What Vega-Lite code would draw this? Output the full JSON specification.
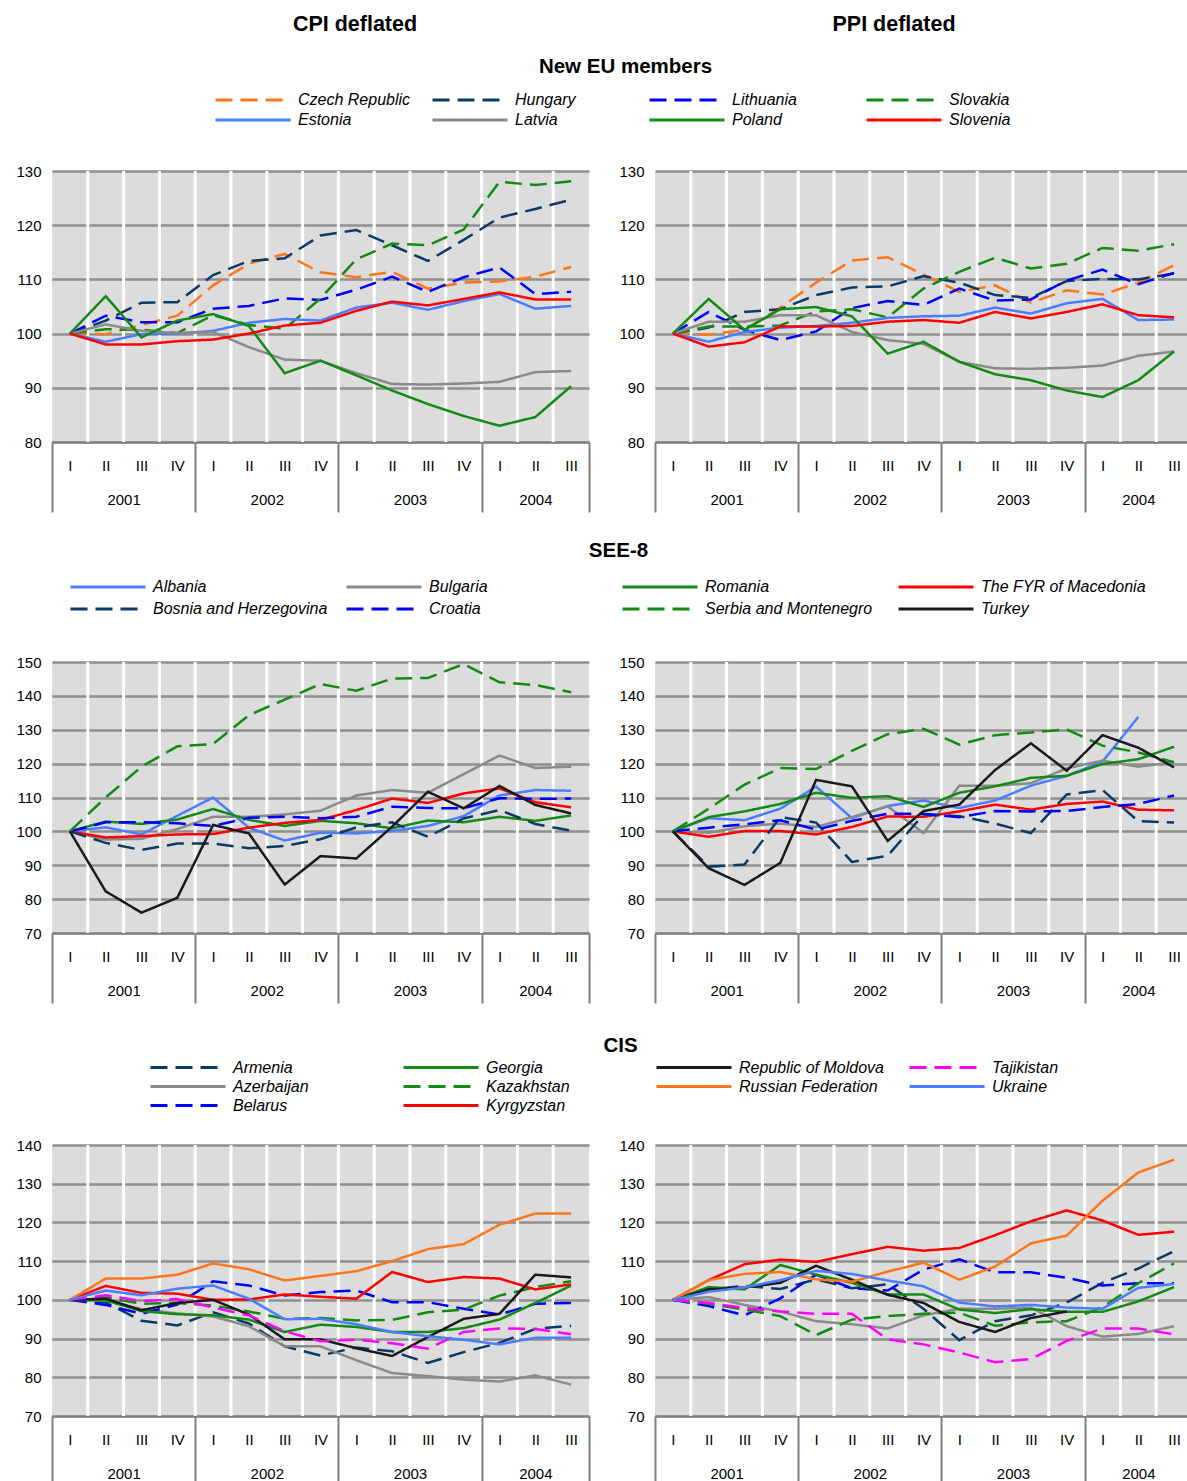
{
"$schema": "https://vega.github.io/schema/vega-lite/v6.json",
"padding": {"left": 15, "top": 10, "right": 0, "bottom": 0},
"background": "#ffffff",
"config": {
  "font": "Liberation Sans",
  "view": {"stroke": null},
  "title": {"font": "Liberation Sans", "color": "#000000"},
  "axis": {"labelFont": "Liberation Sans", "labelColor": "#000000"},
  "legend": {"labelFont": "Liberation Sans", "labelColor": "#000000", "symbolType": "stroke", "symbolSize": 5625, "symbolStrokeWidth": 3, "labelFontSize": 16, "labelFontStyle": "italic", "labelOffset": 6, "labelLimit": 400, "direction": "horizontal", "columns": 4, "gridAlign": "all"}
},
"datasets": {
"stripes": [{"t":2001.25},{"t":2001.5},{"t":2001.75},{"t":2002},{"t":2002.25},{"t":2002.5},{"t":2002.75},{"t":2003},{"t":2003.25},{"t":2003.5},{"t":2003.75},{"t":2004},{"t":2004.25},{"t":2004.5}],
"eu": [
{"c":"Czech Republic","t":2001.125,"cpi":100,"ppi":100},{"c":"Czech Republic","t":2001.375,"cpi":99.9,"ppi":99.8},{"c":"Czech Republic","t":2001.625,"cpi":101.6,"ppi":100.7},{"c":"Czech Republic","t":2001.875,"cpi":103.3,"ppi":104.8},{"c":"Czech Republic","t":2002.125,"cpi":108.9,"ppi":109.4},{"c":"Czech Republic","t":2002.375,"cpi":112.9,"ppi":113.5},{"c":"Czech Republic","t":2002.625,"cpi":114.7,"ppi":114.1},{"c":"Czech Republic","t":2002.875,"cpi":111.3,"ppi":110.9},{"c":"Czech Republic","t":2003.125,"cpi":110.4,"ppi":107.7},{"c":"Czech Republic","t":2003.375,"cpi":111.4,"ppi":108.9},{"c":"Czech Republic","t":2003.625,"cpi":108.3,"ppi":105.7},{"c":"Czech Republic","t":2003.875,"cpi":109.4,"ppi":108.0},{"c":"Czech Republic","t":2004.125,"cpi":109.6,"ppi":107.2},{"c":"Czech Republic","t":2004.375,"cpi":110.5,"ppi":109.4},{"c":"Czech Republic","t":2004.625,"cpi":112.3,"ppi":112.6},
{"c":"Hungary","t":2001.125,"cpi":100,"ppi":100},{"c":"Hungary","t":2001.375,"cpi":102.4,"ppi":101.1},{"c":"Hungary","t":2001.625,"cpi":105.7,"ppi":104.0},{"c":"Hungary","t":2001.875,"cpi":105.8,"ppi":104.5},{"c":"Hungary","t":2002.125,"cpi":110.8,"ppi":107.1},{"c":"Hungary","t":2002.375,"cpi":113.4,"ppi":108.5},{"c":"Hungary","t":2002.625,"cpi":113.9,"ppi":108.7},{"c":"Hungary","t":2002.875,"cpi":118.1,"ppi":110.6},{"c":"Hungary","t":2003.125,"cpi":119.1,"ppi":109.4},{"c":"Hungary","t":2003.375,"cpi":116.3,"ppi":107.1},{"c":"Hungary","t":2003.625,"cpi":113.4,"ppi":106.6},{"c":"Hungary","t":2003.875,"cpi":117.3,"ppi":109.7},{"c":"Hungary","t":2004.125,"cpi":121.4,"ppi":110.1},{"c":"Hungary","t":2004.375,"cpi":123.0,"ppi":110.0},{"c":"Hungary","t":2004.625,"cpi":124.7,"ppi":111.1},
{"c":"Lithuania","t":2001.125,"cpi":100,"ppi":100},{"c":"Lithuania","t":2001.375,"cpi":103.3,"ppi":104.0},{"c":"Lithuania","t":2001.625,"cpi":102.1,"ppi":100.7},{"c":"Lithuania","t":2001.875,"cpi":102.1,"ppi":98.8},{"c":"Lithuania","t":2002.125,"cpi":104.6,"ppi":100.4},{"c":"Lithuania","t":2002.375,"cpi":105.1,"ppi":104.7},{"c":"Lithuania","t":2002.625,"cpi":106.5,"ppi":106.0},{"c":"Lithuania","t":2002.875,"cpi":106.2,"ppi":105.3},{"c":"Lithuania","t":2003.125,"cpi":108.1,"ppi":108.3},{"c":"Lithuania","t":2003.375,"cpi":110.5,"ppi":106.1},{"c":"Lithuania","t":2003.625,"cpi":107.7,"ppi":106.3},{"c":"Lithuania","t":2003.875,"cpi":110.4,"ppi":109.8},{"c":"Lithuania","t":2004.125,"cpi":112.2,"ppi":111.8},{"c":"Lithuania","t":2004.375,"cpi":107.3,"ppi":109.1},{"c":"Lithuania","t":2004.625,"cpi":107.7,"ppi":111.2},
{"c":"Slovakia","t":2001.125,"cpi":100,"ppi":100},{"c":"Slovakia","t":2001.375,"cpi":100.8,"ppi":101.3},{"c":"Slovakia","t":2001.625,"cpi":100.7,"ppi":101.3},{"c":"Slovakia","t":2001.875,"cpi":100.1,"ppi":101.5},{"c":"Slovakia","t":2002.125,"cpi":103.4,"ppi":104.1},{"c":"Slovakia","t":2002.375,"cpi":101.6,"ppi":104.5},{"c":"Slovakia","t":2002.625,"cpi":100.9,"ppi":103.0},{"c":"Slovakia","t":2002.875,"cpi":106.5,"ppi":108.3},{"c":"Slovakia","t":2003.125,"cpi":113.7,"ppi":111.4},{"c":"Slovakia","t":2003.375,"cpi":116.6,"ppi":114.0},{"c":"Slovakia","t":2003.625,"cpi":116.3,"ppi":112.0},{"c":"Slovakia","t":2003.875,"cpi":119.2,"ppi":112.9},{"c":"Slovakia","t":2004.125,"cpi":128.0,"ppi":115.8},{"c":"Slovakia","t":2004.375,"cpi":127.4,"ppi":115.3},{"c":"Slovakia","t":2004.625,"cpi":128.1,"ppi":116.5},
{"c":"Estonia","t":2001.125,"cpi":100,"ppi":100},{"c":"Estonia","t":2001.375,"cpi":98.5,"ppi":98.5},{"c":"Estonia","t":2001.625,"cpi":99.9,"ppi":100.3},{"c":"Estonia","t":2001.875,"cpi":100.0,"ppi":101.1},{"c":"Estonia","t":2002.125,"cpi":100.5,"ppi":101.4},{"c":"Estonia","t":2002.375,"cpi":102.0,"ppi":102.0},{"c":"Estonia","t":2002.625,"cpi":102.7,"ppi":102.9},{"c":"Estonia","t":2002.875,"cpi":102.4,"ppi":103.2},{"c":"Estonia","t":2003.125,"cpi":104.8,"ppi":103.3},{"c":"Estonia","t":2003.375,"cpi":105.7,"ppi":104.8},{"c":"Estonia","t":2003.625,"cpi":104.4,"ppi":103.7},{"c":"Estonia","t":2003.875,"cpi":106.0,"ppi":105.6},{"c":"Estonia","t":2004.125,"cpi":107.3,"ppi":106.4},{"c":"Estonia","t":2004.375,"cpi":104.6,"ppi":102.5},{"c":"Estonia","t":2004.625,"cpi":105.1,"ppi":102.6},
{"c":"Latvia","t":2001.125,"cpi":100,"ppi":100},{"c":"Latvia","t":2001.375,"cpi":101.7,"ppi":102.2},{"c":"Latvia","t":2001.625,"cpi":100.5,"ppi":102.2},{"c":"Latvia","t":2001.875,"cpi":100.1,"ppi":103.4},{"c":"Latvia","t":2002.125,"cpi":100.3,"ppi":103.4},{"c":"Latvia","t":2002.375,"cpi":97.5,"ppi":100.3},{"c":"Latvia","t":2002.625,"cpi":95.2,"ppi":98.8},{"c":"Latvia","t":2002.875,"cpi":95.0,"ppi":98.1},{"c":"Latvia","t":2003.125,"cpi":92.7,"ppi":94.8},{"c":"Latvia","t":2003.375,"cpi":90.7,"ppi":93.6},{"c":"Latvia","t":2003.625,"cpi":90.6,"ppi":93.5},{"c":"Latvia","t":2003.875,"cpi":90.8,"ppi":93.7},{"c":"Latvia","t":2004.125,"cpi":91.1,"ppi":94.1},{"c":"Latvia","t":2004.375,"cpi":92.9,"ppi":95.9},{"c":"Latvia","t":2004.625,"cpi":93.1,"ppi":96.7},
{"c":"Poland","t":2001.125,"cpi":100,"ppi":100},{"c":"Poland","t":2001.375,"cpi":106.9,"ppi":106.4},{"c":"Poland","t":2001.625,"cpi":99.3,"ppi":100.7},{"c":"Poland","t":2001.875,"cpi":102.4,"ppi":104.5},{"c":"Poland","t":2002.125,"cpi":103.6,"ppi":104.9},{"c":"Poland","t":2002.375,"cpi":101.4,"ppi":103.2},{"c":"Poland","t":2002.625,"cpi":92.7,"ppi":96.3},{"c":"Poland","t":2002.875,"cpi":95.0,"ppi":98.5},{"c":"Poland","t":2003.125,"cpi":92.3,"ppi":94.8},{"c":"Poland","t":2003.375,"cpi":89.5,"ppi":92.5},{"c":"Poland","t":2003.625,"cpi":87.0,"ppi":91.4},{"c":"Poland","t":2003.875,"cpi":84.8,"ppi":89.5},{"c":"Poland","t":2004.125,"cpi":83.0,"ppi":88.3},{"c":"Poland","t":2004.375,"cpi":84.6,"ppi":91.4},{"c":"Poland","t":2004.625,"cpi":90.3,"ppi":96.7},
{"c":"Slovenia","t":2001.125,"cpi":100,"ppi":100},{"c":"Slovenia","t":2001.375,"cpi":98.0,"ppi":97.6},{"c":"Slovenia","t":2001.625,"cpi":98.0,"ppi":98.4},{"c":"Slovenia","t":2001.875,"cpi":98.6,"ppi":101.3},{"c":"Slovenia","t":2002.125,"cpi":98.9,"ppi":101.3},{"c":"Slovenia","t":2002.375,"cpi":100.0,"ppi":101.4},{"c":"Slovenia","t":2002.625,"cpi":101.5,"ppi":102.2},{"c":"Slovenia","t":2002.875,"cpi":102.0,"ppi":102.5},{"c":"Slovenia","t":2003.125,"cpi":104.2,"ppi":102.0},{"c":"Slovenia","t":2003.375,"cpi":105.9,"ppi":104.0},{"c":"Slovenia","t":2003.625,"cpi":105.2,"ppi":102.8},{"c":"Slovenia","t":2003.875,"cpi":106.4,"ppi":104.0},{"c":"Slovenia","t":2004.125,"cpi":107.6,"ppi":105.4},{"c":"Slovenia","t":2004.375,"cpi":106.3,"ppi":103.4},{"c":"Slovenia","t":2004.625,"cpi":106.3,"ppi":103.0}
],
"see": [
{"c":"Albania","t":2001.125,"cpi":100,"ppi":100},{"c":"Albania","t":2001.375,"cpi":101.2,"ppi":103.9},{"c":"Albania","t":2001.625,"cpi":99.1,"ppi":103.3},{"c":"Albania","t":2001.875,"cpi":104.6,"ppi":106.7},{"c":"Albania","t":2002.125,"cpi":110.0,"ppi":113.2},{"c":"Albania","t":2002.375,"cpi":101.1,"ppi":103.9},{"c":"Albania","t":2002.625,"cpi":97.3,"ppi":107.5},{"c":"Albania","t":2002.875,"cpi":99.6,"ppi":109.1},{"c":"Albania","t":2003.125,"cpi":99.4,"ppi":106.9},{"c":"Albania","t":2003.375,"cpi":100.1,"ppi":109.1},{"c":"Albania","t":2003.625,"cpi":101.6,"ppi":113.5},{"c":"Albania","t":2003.875,"cpi":104.5,"ppi":116.4},{"c":"Albania","t":2004.125,"cpi":110.6,"ppi":120.6},{"c":"Albania","t":2004.375,"cpi":112.2,"ppi":133.8},{"c":"Albania","t":2004.625,"cpi":112.0,"ppi":null},
{"c":"Bulgaria","t":2001.125,"cpi":100,"ppi":100},{"c":"Bulgaria","t":2001.375,"cpi":97.6,"ppi":99.6},{"c":"Bulgaria","t":2001.625,"cpi":97.8,"ppi":101.5},{"c":"Bulgaria","t":2001.875,"cpi":100.7,"ppi":102.3},{"c":"Bulgaria","t":2002.125,"cpi":104.3,"ppi":101.3},{"c":"Bulgaria","t":2002.375,"cpi":104.3,"ppi":104.2},{"c":"Bulgaria","t":2002.625,"cpi":105.0,"ppi":107.4},{"c":"Bulgaria","t":2002.875,"cpi":106.1,"ppi":99.5},{"c":"Bulgaria","t":2003.125,"cpi":110.6,"ppi":113.5},{"c":"Bulgaria","t":2003.375,"cpi":112.2,"ppi":113.5},{"c":"Bulgaria","t":2003.625,"cpi":111.4,"ppi":114.2},{"c":"Bulgaria","t":2003.875,"cpi":116.9,"ppi":118.6},{"c":"Bulgaria","t":2004.125,"cpi":122.4,"ppi":120.9},{"c":"Bulgaria","t":2004.375,"cpi":118.7,"ppi":119.1},{"c":"Bulgaria","t":2004.625,"cpi":119.1,"ppi":120.4},
{"c":"Romania","t":2001.125,"cpi":100,"ppi":100},{"c":"Romania","t":2001.375,"cpi":102.9,"ppi":104.2},{"c":"Romania","t":2001.625,"cpi":102.2,"ppi":105.9},{"c":"Romania","t":2001.875,"cpi":103.5,"ppi":108.1},{"c":"Romania","t":2002.125,"cpi":106.6,"ppi":111.4},{"c":"Romania","t":2002.375,"cpi":103.4,"ppi":109.9},{"c":"Romania","t":2002.625,"cpi":101.6,"ppi":110.4},{"c":"Romania","t":2002.875,"cpi":103.1,"ppi":107.2},{"c":"Romania","t":2003.125,"cpi":102.4,"ppi":111.4},{"c":"Romania","t":2003.375,"cpi":100.9,"ppi":113.3},{"c":"Romania","t":2003.625,"cpi":103.2,"ppi":115.8},{"c":"Romania","t":2003.875,"cpi":102.7,"ppi":116.4},{"c":"Romania","t":2004.125,"cpi":104.3,"ppi":119.9},{"c":"Romania","t":2004.375,"cpi":103.1,"ppi":121.3},{"c":"Romania","t":2004.625,"cpi":104.7,"ppi":125.0},
{"c":"The FYR of Macedonia","t":2001.125,"cpi":100,"ppi":100},{"c":"The FYR of Macedonia","t":2001.375,"cpi":98.2,"ppi":98.4},{"c":"The FYR of Macedonia","t":2001.625,"cpi":98.6,"ppi":100.1},{"c":"The FYR of Macedonia","t":2001.875,"cpi":99.1,"ppi":100.1},{"c":"The FYR of Macedonia","t":2002.125,"cpi":99.2,"ppi":99.1},{"c":"The FYR of Macedonia","t":2002.375,"cpi":101.1,"ppi":101.3},{"c":"The FYR of Macedonia","t":2002.625,"cpi":102.5,"ppi":104.4},{"c":"The FYR of Macedonia","t":2002.875,"cpi":103.4,"ppi":104.3},{"c":"The FYR of Macedonia","t":2003.125,"cpi":106.3,"ppi":105.9},{"c":"The FYR of Macedonia","t":2003.375,"cpi":109.7,"ppi":107.9},{"c":"The FYR of Macedonia","t":2003.625,"cpi":108.4,"ppi":106.4},{"c":"The FYR of Macedonia","t":2003.875,"cpi":111.2,"ppi":108.1},{"c":"The FYR of Macedonia","t":2004.125,"cpi":112.7,"ppi":108.8},{"c":"The FYR of Macedonia","t":2004.375,"cpi":108.6,"ppi":106.4},{"c":"The FYR of Macedonia","t":2004.625,"cpi":107.1,"ppi":106.2},
{"c":"Bosnia and Herzegovina","t":2001.125,"cpi":100,"ppi":100},{"c":"Bosnia and Herzegovina","t":2001.375,"cpi":96.6,"ppi":89.6},{"c":"Bosnia and Herzegovina","t":2001.625,"cpi":94.5,"ppi":90.2},{"c":"Bosnia and Herzegovina","t":2001.875,"cpi":96.4,"ppi":104.2},{"c":"Bosnia and Herzegovina","t":2002.125,"cpi":96.4,"ppi":102.6},{"c":"Bosnia and Herzegovina","t":2002.375,"cpi":95.0,"ppi":91.0},{"c":"Bosnia and Herzegovina","t":2002.625,"cpi":95.7,"ppi":92.8},{"c":"Bosnia and Herzegovina","t":2002.875,"cpi":97.7,"ppi":105.0},{"c":"Bosnia and Herzegovina","t":2003.125,"cpi":101.2,"ppi":104.5},{"c":"Bosnia and Herzegovina","t":2003.375,"cpi":102.7,"ppi":102.3},{"c":"Bosnia and Herzegovina","t":2003.625,"cpi":98.4,"ppi":99.5},{"c":"Bosnia and Herzegovina","t":2003.875,"cpi":103.8,"ppi":110.9},{"c":"Bosnia and Herzegovina","t":2004.125,"cpi":106.3,"ppi":112.2},{"c":"Bosnia and Herzegovina","t":2004.375,"cpi":102.2,"ppi":103.0},{"c":"Bosnia and Herzegovina","t":2004.625,"cpi":100.2,"ppi":102.6},
{"c":"Croatia","t":2001.125,"cpi":100,"ppi":100},{"c":"Croatia","t":2001.375,"cpi":102.7,"ppi":101.1},{"c":"Croatia","t":2001.625,"cpi":102.7,"ppi":102.1},{"c":"Croatia","t":2001.875,"cpi":102.4,"ppi":103.3},{"c":"Croatia","t":2002.125,"cpi":101.6,"ppi":100.5},{"c":"Croatia","t":2002.375,"cpi":104.0,"ppi":103.1},{"c":"Croatia","t":2002.625,"cpi":104.3,"ppi":105.2},{"c":"Croatia","t":2002.875,"cpi":103.9,"ppi":105.2},{"c":"Croatia","t":2003.125,"cpi":104.3,"ppi":104.2},{"c":"Croatia","t":2003.375,"cpi":107.3,"ppi":106.0},{"c":"Croatia","t":2003.625,"cpi":106.9,"ppi":105.9},{"c":"Croatia","t":2003.875,"cpi":106.8,"ppi":106.0},{"c":"Croatia","t":2004.125,"cpi":109.8,"ppi":107.2},{"c":"Croatia","t":2004.375,"cpi":109.6,"ppi":108.1},{"c":"Croatia","t":2004.625,"cpi":109.7,"ppi":110.6},
{"c":"Serbia and Montenegro","t":2001.125,"cpi":100,"ppi":100},{"c":"Serbia and Montenegro","t":2001.375,"cpi":110.0,"ppi":106.7},{"c":"Serbia and Montenegro","t":2001.625,"cpi":119.1,"ppi":113.8},{"c":"Serbia and Montenegro","t":2001.875,"cpi":125.1,"ppi":118.7},{"c":"Serbia and Montenegro","t":2002.125,"cpi":125.8,"ppi":118.4},{"c":"Serbia and Montenegro","t":2002.375,"cpi":134.3,"ppi":123.8},{"c":"Serbia and Montenegro","t":2002.625,"cpi":138.9,"ppi":128.7},{"c":"Serbia and Montenegro","t":2002.875,"cpi":143.5,"ppi":130.3},{"c":"Serbia and Montenegro","t":2003.125,"cpi":141.5,"ppi":125.6},{"c":"Serbia and Montenegro","t":2003.375,"cpi":145.1,"ppi":128.4},{"c":"Serbia and Montenegro","t":2003.625,"cpi":145.3,"ppi":129.2},{"c":"Serbia and Montenegro","t":2003.875,"cpi":149.4,"ppi":130.1},{"c":"Serbia and Montenegro","t":2004.125,"cpi":144.0,"ppi":125.3},{"c":"Serbia and Montenegro","t":2004.375,"cpi":143.2,"ppi":123.3},{"c":"Serbia and Montenegro","t":2004.625,"cpi":141.1,"ppi":120.4},
{"c":"Turkey","t":2001.125,"cpi":100,"ppi":100},{"c":"Turkey","t":2001.375,"cpi":82.3,"ppi":89.1},{"c":"Turkey","t":2001.625,"cpi":76.0,"ppi":84.2},{"c":"Turkey","t":2001.875,"cpi":80.4,"ppi":90.7},{"c":"Turkey","t":2002.125,"cpi":101.9,"ppi":115.2},{"c":"Turkey","t":2002.375,"cpi":99.4,"ppi":113.3},{"c":"Turkey","t":2002.625,"cpi":84.3,"ppi":97.2},{"c":"Turkey","t":2002.875,"cpi":92.7,"ppi":106.0},{"c":"Turkey","t":2003.125,"cpi":92.0,"ppi":107.9},{"c":"Turkey","t":2003.375,"cpi":101.4,"ppi":118.1},{"c":"Turkey","t":2003.625,"cpi":111.7,"ppi":126.0},{"c":"Turkey","t":2003.875,"cpi":106.8,"ppi":117.9},{"c":"Turkey","t":2004.125,"cpi":113.4,"ppi":128.4},{"c":"Turkey","t":2004.375,"cpi":107.8,"ppi":124.7},{"c":"Turkey","t":2004.625,"cpi":105.3,"ppi":118.9}
],
"cis": [
{"c":"Armenia","t":2001.125,"cpi":100,"ppi":100},{"c":"Armenia","t":2001.375,"cpi":99.3,"ppi":102.7},{"c":"Armenia","t":2001.625,"cpi":94.6,"ppi":103.6},{"c":"Armenia","t":2001.875,"cpi":93.4,"ppi":102.8},{"c":"Armenia","t":2002.125,"cpi":96.8,"ppi":105.3},{"c":"Armenia","t":2002.375,"cpi":93.9,"ppi":103.0},{"c":"Armenia","t":2002.625,"cpi":88.0,"ppi":104.0},{"c":"Armenia","t":2002.875,"cpi":85.6,"ppi":97.7},{"c":"Armenia","t":2003.125,"cpi":87.7,"ppi":89.6},{"c":"Armenia","t":2003.375,"cpi":86.7,"ppi":94.5},{"c":"Armenia","t":2003.625,"cpi":83.7,"ppi":96.0},{"c":"Armenia","t":2003.875,"cpi":86.5,"ppi":99.3},{"c":"Armenia","t":2004.125,"cpi":88.9,"ppi":104.4},{"c":"Armenia","t":2004.375,"cpi":92.5,"ppi":108.1},{"c":"Armenia","t":2004.625,"cpi":93.3,"ppi":112.6},
{"c":"Azerbaijan","t":2001.125,"cpi":100,"ppi":100},{"c":"Azerbaijan","t":2001.375,"cpi":99.8,"ppi":100.7},{"c":"Azerbaijan","t":2001.625,"cpi":97.6,"ppi":98.7},{"c":"Azerbaijan","t":2001.875,"cpi":96.5,"ppi":97.0},{"c":"Azerbaijan","t":2002.125,"cpi":95.7,"ppi":94.5},{"c":"Azerbaijan","t":2002.375,"cpi":93.2,"ppi":93.7},{"c":"Azerbaijan","t":2002.625,"cpi":88.0,"ppi":92.6},{"c":"Azerbaijan","t":2002.875,"cpi":88.0,"ppi":96.0},{"c":"Azerbaijan","t":2003.125,"cpi":84.4,"ppi":97.7},{"c":"Azerbaijan","t":2003.375,"cpi":81.1,"ppi":97.7},{"c":"Azerbaijan","t":2003.625,"cpi":80.3,"ppi":98.0},{"c":"Azerbaijan","t":2003.875,"cpi":79.4,"ppi":93.2},{"c":"Azerbaijan","t":2004.125,"cpi":78.9,"ppi":90.5},{"c":"Azerbaijan","t":2004.375,"cpi":80.5,"ppi":91.2},{"c":"Azerbaijan","t":2004.625,"cpi":78.1,"ppi":93.2},
{"c":"Belarus","t":2001.125,"cpi":100,"ppi":100},{"c":"Belarus","t":2001.375,"cpi":98.7,"ppi":98.4},{"c":"Belarus","t":2001.625,"cpi":96.4,"ppi":96.0},{"c":"Belarus","t":2001.875,"cpi":98.8,"ppi":100.4},{"c":"Belarus","t":2002.125,"cpi":104.8,"ppi":106.5},{"c":"Belarus","t":2002.375,"cpi":103.7,"ppi":103.0},{"c":"Belarus","t":2002.625,"cpi":101.1,"ppi":102.4},{"c":"Belarus","t":2002.875,"cpi":102.0,"ppi":107.8},{"c":"Belarus","t":2003.125,"cpi":102.4,"ppi":110.5},{"c":"Belarus","t":2003.375,"cpi":99.4,"ppi":107.1},{"c":"Belarus","t":2003.625,"cpi":99.4,"ppi":107.1},{"c":"Belarus","t":2003.875,"cpi":97.7,"ppi":105.7},{"c":"Belarus","t":2004.125,"cpi":96.2,"ppi":103.7},{"c":"Belarus","t":2004.375,"cpi":99.0,"ppi":104.3},{"c":"Belarus","t":2004.625,"cpi":99.2,"ppi":104.3},
{"c":"Georgia","t":2001.125,"cpi":100,"ppi":100},{"c":"Georgia","t":2001.375,"cpi":99.9,"ppi":103.3},{"c":"Georgia","t":2001.625,"cpi":97.1,"ppi":102.7},{"c":"Georgia","t":2001.875,"cpi":96.3,"ppi":109.0},{"c":"Georgia","t":2002.125,"cpi":96.0,"ppi":106.5},{"c":"Georgia","t":2002.375,"cpi":94.9,"ppi":104.4},{"c":"Georgia","t":2002.625,"cpi":91.7,"ppi":101.4},{"c":"Georgia","t":2002.875,"cpi":93.6,"ppi":101.4},{"c":"Georgia","t":2003.125,"cpi":93.0,"ppi":97.5},{"c":"Georgia","t":2003.375,"cpi":91.7,"ppi":96.6},{"c":"Georgia","t":2003.625,"cpi":91.7,"ppi":97.6},{"c":"Georgia","t":2003.875,"cpi":92.7,"ppi":96.9},{"c":"Georgia","t":2004.125,"cpi":94.9,"ppi":96.9},{"c":"Georgia","t":2004.375,"cpi":99.2,"ppi":99.6},{"c":"Georgia","t":2004.625,"cpi":103.7,"ppi":103.3},
{"c":"Kazakhstan","t":2001.125,"cpi":100,"ppi":100},{"c":"Kazakhstan","t":2001.375,"cpi":100.6,"ppi":99.0},{"c":"Kazakhstan","t":2001.625,"cpi":99.0,"ppi":97.5},{"c":"Kazakhstan","t":2001.875,"cpi":99.2,"ppi":95.8},{"c":"Kazakhstan","t":2002.125,"cpi":98.5,"ppi":90.9},{"c":"Kazakhstan","t":2002.375,"cpi":97.0,"ppi":94.9},{"c":"Kazakhstan","t":2002.625,"cpi":95.1,"ppi":95.8},{"c":"Kazakhstan","t":2002.875,"cpi":95.3,"ppi":96.4},{"c":"Kazakhstan","t":2003.125,"cpi":94.7,"ppi":96.7},{"c":"Kazakhstan","t":2003.375,"cpi":94.8,"ppi":93.3},{"c":"Kazakhstan","t":2003.625,"cpi":96.8,"ppi":94.2},{"c":"Kazakhstan","t":2003.875,"cpi":97.5,"ppi":94.5},{"c":"Kazakhstan","t":2004.125,"cpi":101.1,"ppi":98.1},{"c":"Kazakhstan","t":2004.375,"cpi":103.3,"ppi":104.3},{"c":"Kazakhstan","t":2004.625,"cpi":104.8,"ppi":109.4},
{"c":"Kyrgyzstan","t":2001.125,"cpi":100,"ppi":100},{"c":"Kyrgyzstan","t":2001.375,"cpi":103.6,"ppi":105.1},{"c":"Kyrgyzstan","t":2001.625,"cpi":101.8,"ppi":109.2},{"c":"Kyrgyzstan","t":2001.875,"cpi":101.6,"ppi":110.4},{"c":"Kyrgyzstan","t":2002.125,"cpi":100.0,"ppi":109.8},{"c":"Kyrgyzstan","t":2002.375,"cpi":100.1,"ppi":111.8},{"c":"Kyrgyzstan","t":2002.625,"cpi":101.4,"ppi":113.7},{"c":"Kyrgyzstan","t":2002.875,"cpi":100.8,"ppi":112.7},{"c":"Kyrgyzstan","t":2003.125,"cpi":100.3,"ppi":113.4},{"c":"Kyrgyzstan","t":2003.375,"cpi":107.2,"ppi":116.7},{"c":"Kyrgyzstan","t":2003.625,"cpi":104.6,"ppi":120.3},{"c":"Kyrgyzstan","t":2003.875,"cpi":105.9,"ppi":123.1},{"c":"Kyrgyzstan","t":2004.125,"cpi":105.5,"ppi":120.5},{"c":"Kyrgyzstan","t":2004.375,"cpi":102.7,"ppi":116.8},{"c":"Kyrgyzstan","t":2004.625,"cpi":104.0,"ppi":117.6},
{"c":"Republic of Moldova","t":2001.125,"cpi":100,"ppi":100},{"c":"Republic of Moldova","t":2001.375,"cpi":100.3,"ppi":102.7},{"c":"Republic of Moldova","t":2001.625,"cpi":97.3,"ppi":103.2},{"c":"Republic of Moldova","t":2001.875,"cpi":99.2,"ppi":104.4},{"c":"Republic of Moldova","t":2002.125,"cpi":100.0,"ppi":108.8},{"c":"Republic of Moldova","t":2002.375,"cpi":96.2,"ppi":105.2},{"c":"Republic of Moldova","t":2002.625,"cpi":89.8,"ppi":101.3},{"c":"Republic of Moldova","t":2002.875,"cpi":89.8,"ppi":99.2},{"c":"Republic of Moldova","t":2003.125,"cpi":87.5,"ppi":94.3},{"c":"Republic of Moldova","t":2003.375,"cpi":85.5,"ppi":91.7},{"c":"Republic of Moldova","t":2003.625,"cpi":90.4,"ppi":95.3},{"c":"Republic of Moldova","t":2003.875,"cpi":95.1,"ppi":97.0},{"c":"Republic of Moldova","t":2004.125,"cpi":96.4,"ppi":null},{"c":"Republic of Moldova","t":2004.375,"cpi":106.5,"ppi":null},{"c":"Republic of Moldova","t":2004.625,"cpi":105.8,"ppi":null},
{"c":"Russian Federation","t":2001.125,"cpi":100,"ppi":100},{"c":"Russian Federation","t":2001.375,"cpi":105.5,"ppi":105.1},{"c":"Russian Federation","t":2001.625,"cpi":105.5,"ppi":106.7},{"c":"Russian Federation","t":2001.875,"cpi":106.5,"ppi":107.2},{"c":"Russian Federation","t":2002.125,"cpi":109.4,"ppi":105.3},{"c":"Russian Federation","t":2002.375,"cpi":107.9,"ppi":104.7},{"c":"Russian Federation","t":2002.625,"cpi":105.0,"ppi":107.3},{"c":"Russian Federation","t":2002.875,"cpi":106.2,"ppi":109.6},{"c":"Russian Federation","t":2003.125,"cpi":107.4,"ppi":105.2},{"c":"Russian Federation","t":2003.375,"cpi":110.0,"ppi":108.6},{"c":"Russian Federation","t":2003.625,"cpi":113.1,"ppi":114.6},{"c":"Russian Federation","t":2003.875,"cpi":114.4,"ppi":116.6},{"c":"Russian Federation","t":2004.125,"cpi":119.4,"ppi":125.6},{"c":"Russian Federation","t":2004.375,"cpi":122.3,"ppi":132.9},{"c":"Russian Federation","t":2004.625,"cpi":122.3,"ppi":136.2},
{"c":"Tajikistan","t":2001.125,"cpi":100,"ppi":100},{"c":"Tajikistan","t":2001.375,"cpi":101.2,"ppi":99.2},{"c":"Tajikistan","t":2001.625,"cpi":99.7,"ppi":97.9},{"c":"Tajikistan","t":2001.875,"cpi":100.2,"ppi":97.0},{"c":"Tajikistan","t":2002.125,"cpi":98.0,"ppi":96.4},{"c":"Tajikistan","t":2002.375,"cpi":96.0,"ppi":96.4},{"c":"Tajikistan","t":2002.625,"cpi":91.9,"ppi":89.8},{"c":"Tajikistan","t":2002.875,"cpi":89.3,"ppi":88.5},{"c":"Tajikistan","t":2003.125,"cpi":89.7,"ppi":86.4},{"c":"Tajikistan","t":2003.375,"cpi":88.8,"ppi":83.9},{"c":"Tajikistan","t":2003.625,"cpi":87.4,"ppi":84.7},{"c":"Tajikistan","t":2003.875,"cpi":91.7,"ppi":89.4},{"c":"Tajikistan","t":2004.125,"cpi":92.6,"ppi":92.6},{"c":"Tajikistan","t":2004.375,"cpi":92.5,"ppi":92.6},{"c":"Tajikistan","t":2004.625,"cpi":91.1,"ppi":91.1},
{"c":"Ukraine","t":2001.125,"cpi":100,"ppi":100},{"c":"Ukraine","t":2001.375,"cpi":102.4,"ppi":102.1},{"c":"Ukraine","t":2001.625,"cpi":101.2,"ppi":103.2},{"c":"Ukraine","t":2001.875,"cpi":102.9,"ppi":105.1},{"c":"Ukraine","t":2002.125,"cpi":103.7,"ppi":107.5},{"c":"Ukraine","t":2002.375,"cpi":100.3,"ppi":106.7},{"c":"Ukraine","t":2002.625,"cpi":95.0,"ppi":105.0},{"c":"Ukraine","t":2002.875,"cpi":95.1,"ppi":103.5},{"c":"Ukraine","t":2003.125,"cpi":93.7,"ppi":99.3},{"c":"Ukraine","t":2003.375,"cpi":91.7,"ppi":98.3},{"c":"Ukraine","t":2003.625,"cpi":90.6,"ppi":98.7},{"c":"Ukraine","t":2003.875,"cpi":89.7,"ppi":98.0},{"c":"Ukraine","t":2004.125,"cpi":88.5,"ppi":97.7},{"c":"Ukraine","t":2004.375,"cpi":90.2,"ppi":103.1},{"c":"Ukraine","t":2004.625,"cpi":90.2,"ppi":104.1}
]
},
"spacing": 16,
"resolve": {"scale": {"color": "independent", "strokeDash": "independent"}},
"vconcat": [
{
  "spacing": 0,
  "hconcat": [
    {"width": 606, "height": 30, "data": {"values": [{"label": "CPI deflated"}]}, "mark": {"type": "text", "fontSize": 21.5, "fontWeight": "bold", "color": "#000000"}, "encoding": {"text": {"field": "label"}}},
    {"width": 472, "height": 30, "data": {"values": [{"label": "PPI deflated"}]}, "mark": {"type": "text", "fontSize": 21.5, "fontWeight": "bold", "color": "#000000"}, "encoding": {"text": {"field": "label"}}}
  ]
},
{
 "spacing": 32,
 "resolve": {"scale": {"color": "independent", "strokeDash": "independent"}},
 "vconcat": [
 {
  "spacing": 28,
  "resolve": {"scale": {"color": "independent", "strokeDash": "independent"}},
  "vconcat": [
  {
    "title": {"text": "New EU members", "anchor": "middle", "fontSize": 20.5, "fontWeight": "bold", "offset": 13, "dx": 21},
    "spacing": 28,
    "hconcat": [
      {
        "width": 537, "height": 271,
        "view": {"fill": "#dcdcdc", "stroke": null},
        "encoding": {"x": {"field": "t", "type": "quantitative", "scale": {"domain": [2001, 2004.75], "nice": false, "zero": false}, "axis": {"title": null, "grid": false, "values": [2001, 2001.125, 2001.375, 2001.5, 2001.625, 2001.875, 2002, 2002.125, 2002.375, 2002.5, 2002.625, 2002.875, 2003, 2003.125, 2003.375, 2003.5, 2003.625, 2003.875, 2004, 2004.125, 2004.375, 2004.3751, 2004.625, 2004.75], "labelExpr": "datum.value % 1 == 0.125 ? 'I' : datum.value % 1 == 0.375 ? 'II' : datum.value % 1 == 0.625 ? 'III' : datum.value % 1 == 0.875 ? 'IV' : datum.value % 1 == 0.5 ? '' + floor(datum.value) : (abs(datum.value - 2004.3751) < 0.00005 ? '2004' : '')", "labelOverlap": false, "labelFlush": false, "labelBound": false, "labelFontSize": 15, "labelPadding": {"condition": [{"test": "datum.value % 1 == 0 || datum.value == 2004.75", "value": -70}, {"test": "datum.value % 1 == 0.5 || abs(datum.value - 2004.3751) < 0.00005", "value": 50}], "value": 16}, "domainColor": "#808080", "domainWidth": 2, "ticks": true, "tickColor": "#808080", "tickWidth": 2, "tickSize": {"condition": {"test": "datum.value % 1 == 0 || datum.value == 2004.75", "value": 70}, "value": 0}}}},
        "layer": [
          {"data": {"name": "stripes"}, "mark": {"type": "rule", "color": "#ffffff", "strokeWidth": 3}, "encoding": {}},
          {"data": {"name": "eu"}, "mark": {"type": "line", "strokeWidth": 2.5}, "encoding": {
            "y": {"field": "cpi", "type": "quantitative", "scale": {"domain": [80, 130], "nice": false, "zero": false}, "axis": {"title": null, "values": [80, 90, 100, 110, 120, 130], "domain": false, "ticks": false, "grid": true, "gridColor": "#8f8f8f", "gridWidth": 2.5, "labelFontSize": 15, "labelPadding": 11}},
            "color": {"field": "c", "type": "nominal", "scale": {"domain": ["Czech Republic", "Hungary", "Lithuania", "Slovakia", "Estonia", "Latvia", "Poland", "Slovenia"], "range": ["#FF7519", "#0C3A66", "#0000FF", "#138A13", "#4A7DFF", "#8A8A8A", "#138A13", "#FF0000"]}, "legend": {"orient": "none", "legendX": 162, "legendY": -81, "columnPadding": 20, "rowPadding": 0, "clipHeight": 20, "title": null}},
            "strokeDash": {"field": "c", "type": "nominal", "scale": {"domain": ["Czech Republic", "Hungary", "Lithuania", "Slovakia", "Estonia", "Latvia", "Poland", "Slovenia"], "range": [[17, 8], [17, 8], [17, 8], [17, 8], [1, 0], [1, 0], [1, 0], [1, 0]]}, "legend": {"orient": "none", "legendX": 162, "legendY": -81, "columnPadding": 20, "rowPadding": 0, "clipHeight": 20, "title": null}}
          }}
        ]
      },
      {
        "width": 537, "height": 271,
        "view": {"fill": "#dcdcdc", "stroke": null},
        "encoding": {"x": {"field": "t", "type": "quantitative", "scale": {"domain": [2001, 2004.75], "nice": false, "zero": false}, "axis": {"title": null, "grid": false, "values": [2001, 2001.125, 2001.375, 2001.5, 2001.625, 2001.875, 2002, 2002.125, 2002.375, 2002.5, 2002.625, 2002.875, 2003, 2003.125, 2003.375, 2003.5, 2003.625, 2003.875, 2004, 2004.125, 2004.375, 2004.3751, 2004.625, 2004.75], "labelExpr": "datum.value % 1 == 0.125 ? 'I' : datum.value % 1 == 0.375 ? 'II' : datum.value % 1 == 0.625 ? 'III' : datum.value % 1 == 0.875 ? 'IV' : datum.value % 1 == 0.5 ? '' + floor(datum.value) : (abs(datum.value - 2004.3751) < 0.00005 ? '2004' : '')", "labelOverlap": false, "labelFlush": false, "labelBound": false, "labelFontSize": 15, "labelPadding": {"condition": [{"test": "datum.value % 1 == 0 || datum.value == 2004.75", "value": -70}, {"test": "datum.value % 1 == 0.5 || abs(datum.value - 2004.3751) < 0.00005", "value": 50}], "value": 16}, "domainColor": "#808080", "domainWidth": 2, "ticks": true, "tickColor": "#808080", "tickWidth": 2, "tickSize": {"condition": {"test": "datum.value % 1 == 0 || datum.value == 2004.75", "value": 70}, "value": 0}}}},
        "layer": [
          {"data": {"name": "stripes"}, "mark": {"type": "rule", "color": "#ffffff", "strokeWidth": 3}, "encoding": {}},
          {"data": {"name": "eu"}, "mark": {"type": "line", "strokeWidth": 2.5}, "encoding": {
            "y": {"field": "ppi", "type": "quantitative", "scale": {"domain": [80, 130], "nice": false, "zero": false}, "axis": {"title": null, "values": [80, 90, 100, 110, 120, 130], "domain": false, "ticks": false, "grid": true, "gridColor": "#8f8f8f", "gridWidth": 2.5, "labelFontSize": 15, "labelPadding": 11}},
            "color": {"field": "c", "type": "nominal", "scale": {"domain": ["Czech Republic", "Hungary", "Lithuania", "Slovakia", "Estonia", "Latvia", "Poland", "Slovenia"], "range": ["#FF7519", "#0C3A66", "#0000FF", "#138A13", "#4A7DFF", "#8A8A8A", "#138A13", "#FF0000"]}, "legend": {"orient": "none", "legendX": 162, "legendY": -81, "columnPadding": 20, "rowPadding": 0, "clipHeight": 20, "title": null}},
            "strokeDash": {"field": "c", "type": "nominal", "scale": {"domain": ["Czech Republic", "Hungary", "Lithuania", "Slovakia", "Estonia", "Latvia", "Poland", "Slovenia"], "range": [[17, 8], [17, 8], [17, 8], [17, 8], [1, 0], [1, 0], [1, 0], [1, 0]]}, "legend": {"orient": "none", "legendX": 162, "legendY": -81, "columnPadding": 20, "rowPadding": 0, "clipHeight": 20, "title": null}}
          }}
        ]
      }
    ]
  },
  {
    "title": {"text": "SEE-8", "anchor": "middle", "fontSize": 20.5, "fontWeight": "bold", "offset": 15.5, "dx": 14},
    "spacing": 28,
    "hconcat": [
      {
        "width": 537, "height": 271,
        "view": {"fill": "#dcdcdc", "stroke": null},
        "encoding": {"x": {"field": "t", "type": "quantitative", "scale": {"domain": [2001, 2004.75], "nice": false, "zero": false}, "axis": {"title": null, "grid": false, "values": [2001, 2001.125, 2001.375, 2001.5, 2001.625, 2001.875, 2002, 2002.125, 2002.375, 2002.5, 2002.625, 2002.875, 2003, 2003.125, 2003.375, 2003.5, 2003.625, 2003.875, 2004, 2004.125, 2004.375, 2004.3751, 2004.625, 2004.75], "labelExpr": "datum.value % 1 == 0.125 ? 'I' : datum.value % 1 == 0.375 ? 'II' : datum.value % 1 == 0.625 ? 'III' : datum.value % 1 == 0.875 ? 'IV' : datum.value % 1 == 0.5 ? '' + floor(datum.value) : (abs(datum.value - 2004.3751) < 0.00005 ? '2004' : '')", "labelOverlap": false, "labelFlush": false, "labelBound": false, "labelFontSize": 15, "labelPadding": {"condition": [{"test": "datum.value % 1 == 0 || datum.value == 2004.75", "value": -70}, {"test": "datum.value % 1 == 0.5 || abs(datum.value - 2004.3751) < 0.00005", "value": 50}], "value": 16}, "domainColor": "#808080", "domainWidth": 2, "ticks": true, "tickColor": "#808080", "tickWidth": 2, "tickSize": {"condition": {"test": "datum.value % 1 == 0 || datum.value == 2004.75", "value": 70}, "value": 0}}}},
        "layer": [
          {"data": {"name": "stripes"}, "mark": {"type": "rule", "color": "#ffffff", "strokeWidth": 3}, "encoding": {}},
          {"data": {"name": "see"}, "mark": {"type": "line", "strokeWidth": 2.5}, "encoding": {
            "y": {"field": "cpi", "type": "quantitative", "scale": {"domain": [70, 150], "nice": false, "zero": false}, "axis": {"title": null, "values": [70, 80, 90, 100, 110, 120, 130, 140, 150], "domain": false, "ticks": false, "grid": true, "gridColor": "#8f8f8f", "gridWidth": 2.5, "labelFontSize": 15, "labelPadding": 11}},
            "color": {"field": "c", "type": "nominal", "scale": {"domain": ["Albania", "Bulgaria", "Romania", "The FYR of Macedonia", "Bosnia and Herzegovina", "Croatia", "Serbia and Montenegro", "Turkey"], "range": ["#4A7DFF", "#8A8A8A", "#138A13", "#FF0000", "#0C3A66", "#0000FF", "#138A13", "#1A1A1A"]}, "legend": {"orient": "none", "legendX": 17, "legendY": -85, "columnPadding": 17, "rowPadding": 2, "clipHeight": 20, "title": null}},
            "strokeDash": {"field": "c", "type": "nominal", "scale": {"domain": ["Albania", "Bulgaria", "Romania", "The FYR of Macedonia", "Bosnia and Herzegovina", "Croatia", "Serbia and Montenegro", "Turkey"], "range": [[1, 0], [1, 0], [1, 0], [1, 0], [17, 8], [17, 8], [17, 8], [1, 0]]}, "legend": {"orient": "none", "legendX": 17, "legendY": -85, "columnPadding": 17, "rowPadding": 2, "clipHeight": 20, "title": null}}
          }}
        ]
      },
      {
        "width": 537, "height": 271,
        "view": {"fill": "#dcdcdc", "stroke": null},
        "encoding": {"x": {"field": "t", "type": "quantitative", "scale": {"domain": [2001, 2004.75], "nice": false, "zero": false}, "axis": {"title": null, "grid": false, "values": [2001, 2001.125, 2001.375, 2001.5, 2001.625, 2001.875, 2002, 2002.125, 2002.375, 2002.5, 2002.625, 2002.875, 2003, 2003.125, 2003.375, 2003.5, 2003.625, 2003.875, 2004, 2004.125, 2004.375, 2004.3751, 2004.625, 2004.75], "labelExpr": "datum.value % 1 == 0.125 ? 'I' : datum.value % 1 == 0.375 ? 'II' : datum.value % 1 == 0.625 ? 'III' : datum.value % 1 == 0.875 ? 'IV' : datum.value % 1 == 0.5 ? '' + floor(datum.value) : (abs(datum.value - 2004.3751) < 0.00005 ? '2004' : '')", "labelOverlap": false, "labelFlush": false, "labelBound": false, "labelFontSize": 15, "labelPadding": {"condition": [{"test": "datum.value % 1 == 0 || datum.value == 2004.75", "value": -70}, {"test": "datum.value % 1 == 0.5 || abs(datum.value - 2004.3751) < 0.00005", "value": 50}], "value": 16}, "domainColor": "#808080", "domainWidth": 2, "ticks": true, "tickColor": "#808080", "tickWidth": 2, "tickSize": {"condition": {"test": "datum.value % 1 == 0 || datum.value == 2004.75", "value": 70}, "value": 0}}}},
        "layer": [
          {"data": {"name": "stripes"}, "mark": {"type": "rule", "color": "#ffffff", "strokeWidth": 3}, "encoding": {}},
          {"data": {"name": "see"}, "mark": {"type": "line", "strokeWidth": 2.5}, "encoding": {
            "y": {"field": "ppi", "type": "quantitative", "scale": {"domain": [70, 150], "nice": false, "zero": false}, "axis": {"title": null, "values": [70, 80, 90, 100, 110, 120, 130, 140, 150], "domain": false, "ticks": false, "grid": true, "gridColor": "#8f8f8f", "gridWidth": 2.5, "labelFontSize": 15, "labelPadding": 11}},
            "color": {"field": "c", "type": "nominal", "scale": {"domain": ["Albania", "Bulgaria", "Romania", "The FYR of Macedonia", "Bosnia and Herzegovina", "Croatia", "Serbia and Montenegro", "Turkey"], "range": ["#4A7DFF", "#8A8A8A", "#138A13", "#FF0000", "#0C3A66", "#0000FF", "#138A13", "#1A1A1A"]}, "legend": {"orient": "none", "legendX": 17, "legendY": -85, "columnPadding": 17, "rowPadding": 2, "clipHeight": 20, "title": null}},
            "strokeDash": {"field": "c", "type": "nominal", "scale": {"domain": ["Albania", "Bulgaria", "Romania", "The FYR of Macedonia", "Bosnia and Herzegovina", "Croatia", "Serbia and Montenegro", "Turkey"], "range": [[1, 0], [1, 0], [1, 0], [1, 0], [17, 8], [17, 8], [17, 8], [1, 0]]}, "legend": {"orient": "none", "legendX": 17, "legendY": -85, "columnPadding": 17, "rowPadding": 2, "clipHeight": 20, "title": null}}
          }}
        ]
      }
    ]
  }
  ]
 },
  {
    "title": {"text": "CIS", "anchor": "middle", "fontSize": 20.5, "fontWeight": "bold", "offset": 1.5, "dx": 16},
    "spacing": 28,
    "hconcat": [
      {
        "width": 537, "height": 271,
        "view": {"fill": "#dcdcdc", "stroke": null},
        "encoding": {"x": {"field": "t", "type": "quantitative", "scale": {"domain": [2001, 2004.75], "nice": false, "zero": false}, "axis": {"title": null, "grid": false, "values": [2001, 2001.125, 2001.375, 2001.5, 2001.625, 2001.875, 2002, 2002.125, 2002.375, 2002.5, 2002.625, 2002.875, 2003, 2003.125, 2003.375, 2003.5, 2003.625, 2003.875, 2004, 2004.125, 2004.375, 2004.3751, 2004.625, 2004.75], "labelExpr": "datum.value % 1 == 0.125 ? 'I' : datum.value % 1 == 0.375 ? 'II' : datum.value % 1 == 0.625 ? 'III' : datum.value % 1 == 0.875 ? 'IV' : datum.value % 1 == 0.5 ? '' + floor(datum.value) : (abs(datum.value - 2004.3751) < 0.00005 ? '2004' : '')", "labelOverlap": false, "labelFlush": false, "labelBound": false, "labelFontSize": 15, "labelPadding": {"condition": [{"test": "datum.value % 1 == 0 || datum.value == 2004.75", "value": -70}, {"test": "datum.value % 1 == 0.5 || abs(datum.value - 2004.3751) < 0.00005", "value": 50}], "value": 16}, "domainColor": "#808080", "domainWidth": 2, "ticks": true, "tickColor": "#808080", "tickWidth": 2, "tickSize": {"condition": {"test": "datum.value % 1 == 0 || datum.value == 2004.75", "value": 70}, "value": 0}}}},
        "layer": [
          {"data": {"name": "stripes"}, "mark": {"type": "rule", "color": "#ffffff", "strokeWidth": 3}, "encoding": {}},
          {"data": {"name": "cis"}, "mark": {"type": "line", "strokeWidth": 2.5}, "encoding": {
            "y": {"field": "cpi", "type": "quantitative", "scale": {"domain": [70, 140], "nice": false, "zero": false}, "axis": {"title": null, "values": [70, 80, 90, 100, 110, 120, 130, 140], "domain": false, "ticks": false, "grid": true, "gridColor": "#8f8f8f", "gridWidth": 2.5, "labelFontSize": 15, "labelPadding": 11}},
            "color": {"field": "c", "type": "nominal", "scale": {"domain": ["Armenia", "Georgia", "Republic of Moldova", "Tajikistan", "Azerbaijan", "Kazakhstan", "Russian Federation", "Ukraine", "Belarus", "Kyrgyzstan"], "range": ["#0C3A66", "#138A13", "#1A1A1A", "#FF00FF", "#8A8A8A", "#138A13", "#FF7519", "#4A7DFF", "#0000FF", "#FF0000"]}, "legend": {"orient": "none", "legendX": 97, "legendY": -87, "columnPadding": 24, "rowPadding": 0, "clipHeight": 19, "title": null}},
            "strokeDash": {"field": "c", "type": "nominal", "scale": {"domain": ["Armenia", "Georgia", "Republic of Moldova", "Tajikistan", "Azerbaijan", "Kazakhstan", "Russian Federation", "Ukraine", "Belarus", "Kyrgyzstan"], "range": [[17, 8], [1, 0], [1, 0], [17, 8], [1, 0], [17, 8], [1, 0], [1, 0], [17, 8], [1, 0]]}, "legend": {"orient": "none", "legendX": 97, "legendY": -87, "columnPadding": 24, "rowPadding": 0, "clipHeight": 19, "title": null}}
          }}
        ]
      },
      {
        "width": 537, "height": 271,
        "view": {"fill": "#dcdcdc", "stroke": null},
        "encoding": {"x": {"field": "t", "type": "quantitative", "scale": {"domain": [2001, 2004.75], "nice": false, "zero": false}, "axis": {"title": null, "grid": false, "values": [2001, 2001.125, 2001.375, 2001.5, 2001.625, 2001.875, 2002, 2002.125, 2002.375, 2002.5, 2002.625, 2002.875, 2003, 2003.125, 2003.375, 2003.5, 2003.625, 2003.875, 2004, 2004.125, 2004.375, 2004.3751, 2004.625, 2004.75], "labelExpr": "datum.value % 1 == 0.125 ? 'I' : datum.value % 1 == 0.375 ? 'II' : datum.value % 1 == 0.625 ? 'III' : datum.value % 1 == 0.875 ? 'IV' : datum.value % 1 == 0.5 ? '' + floor(datum.value) : (abs(datum.value - 2004.3751) < 0.00005 ? '2004' : '')", "labelOverlap": false, "labelFlush": false, "labelBound": false, "labelFontSize": 15, "labelPadding": {"condition": [{"test": "datum.value % 1 == 0 || datum.value == 2004.75", "value": -70}, {"test": "datum.value % 1 == 0.5 || abs(datum.value - 2004.3751) < 0.00005", "value": 50}], "value": 16}, "domainColor": "#808080", "domainWidth": 2, "ticks": true, "tickColor": "#808080", "tickWidth": 2, "tickSize": {"condition": {"test": "datum.value % 1 == 0 || datum.value == 2004.75", "value": 70}, "value": 0}}}},
        "layer": [
          {"data": {"name": "stripes"}, "mark": {"type": "rule", "color": "#ffffff", "strokeWidth": 3}, "encoding": {}},
          {"data": {"name": "cis"}, "mark": {"type": "line", "strokeWidth": 2.5}, "encoding": {
            "y": {"field": "ppi", "type": "quantitative", "scale": {"domain": [70, 140], "nice": false, "zero": false}, "axis": {"title": null, "values": [70, 80, 90, 100, 110, 120, 130, 140], "domain": false, "ticks": false, "grid": true, "gridColor": "#8f8f8f", "gridWidth": 2.5, "labelFontSize": 15, "labelPadding": 11}},
            "color": {"field": "c", "type": "nominal", "scale": {"domain": ["Armenia", "Georgia", "Republic of Moldova", "Tajikistan", "Azerbaijan", "Kazakhstan", "Russian Federation", "Ukraine", "Belarus", "Kyrgyzstan"], "range": ["#0C3A66", "#138A13", "#1A1A1A", "#FF00FF", "#8A8A8A", "#138A13", "#FF7519", "#4A7DFF", "#0000FF", "#FF0000"]}, "legend": {"orient": "none", "legendX": 97, "legendY": -87, "columnPadding": 24, "rowPadding": 0, "clipHeight": 19, "title": null}},
            "strokeDash": {"field": "c", "type": "nominal", "scale": {"domain": ["Armenia", "Georgia", "Republic of Moldova", "Tajikistan", "Azerbaijan", "Kazakhstan", "Russian Federation", "Ukraine", "Belarus", "Kyrgyzstan"], "range": [[17, 8], [1, 0], [1, 0], [17, 8], [1, 0], [17, 8], [1, 0], [1, 0], [17, 8], [1, 0]]}, "legend": {"orient": "none", "legendX": 97, "legendY": -87, "columnPadding": 24, "rowPadding": 0, "clipHeight": 19, "title": null}}
          }}
        ]
      }
    ]
  }
 ]
}
]
}
